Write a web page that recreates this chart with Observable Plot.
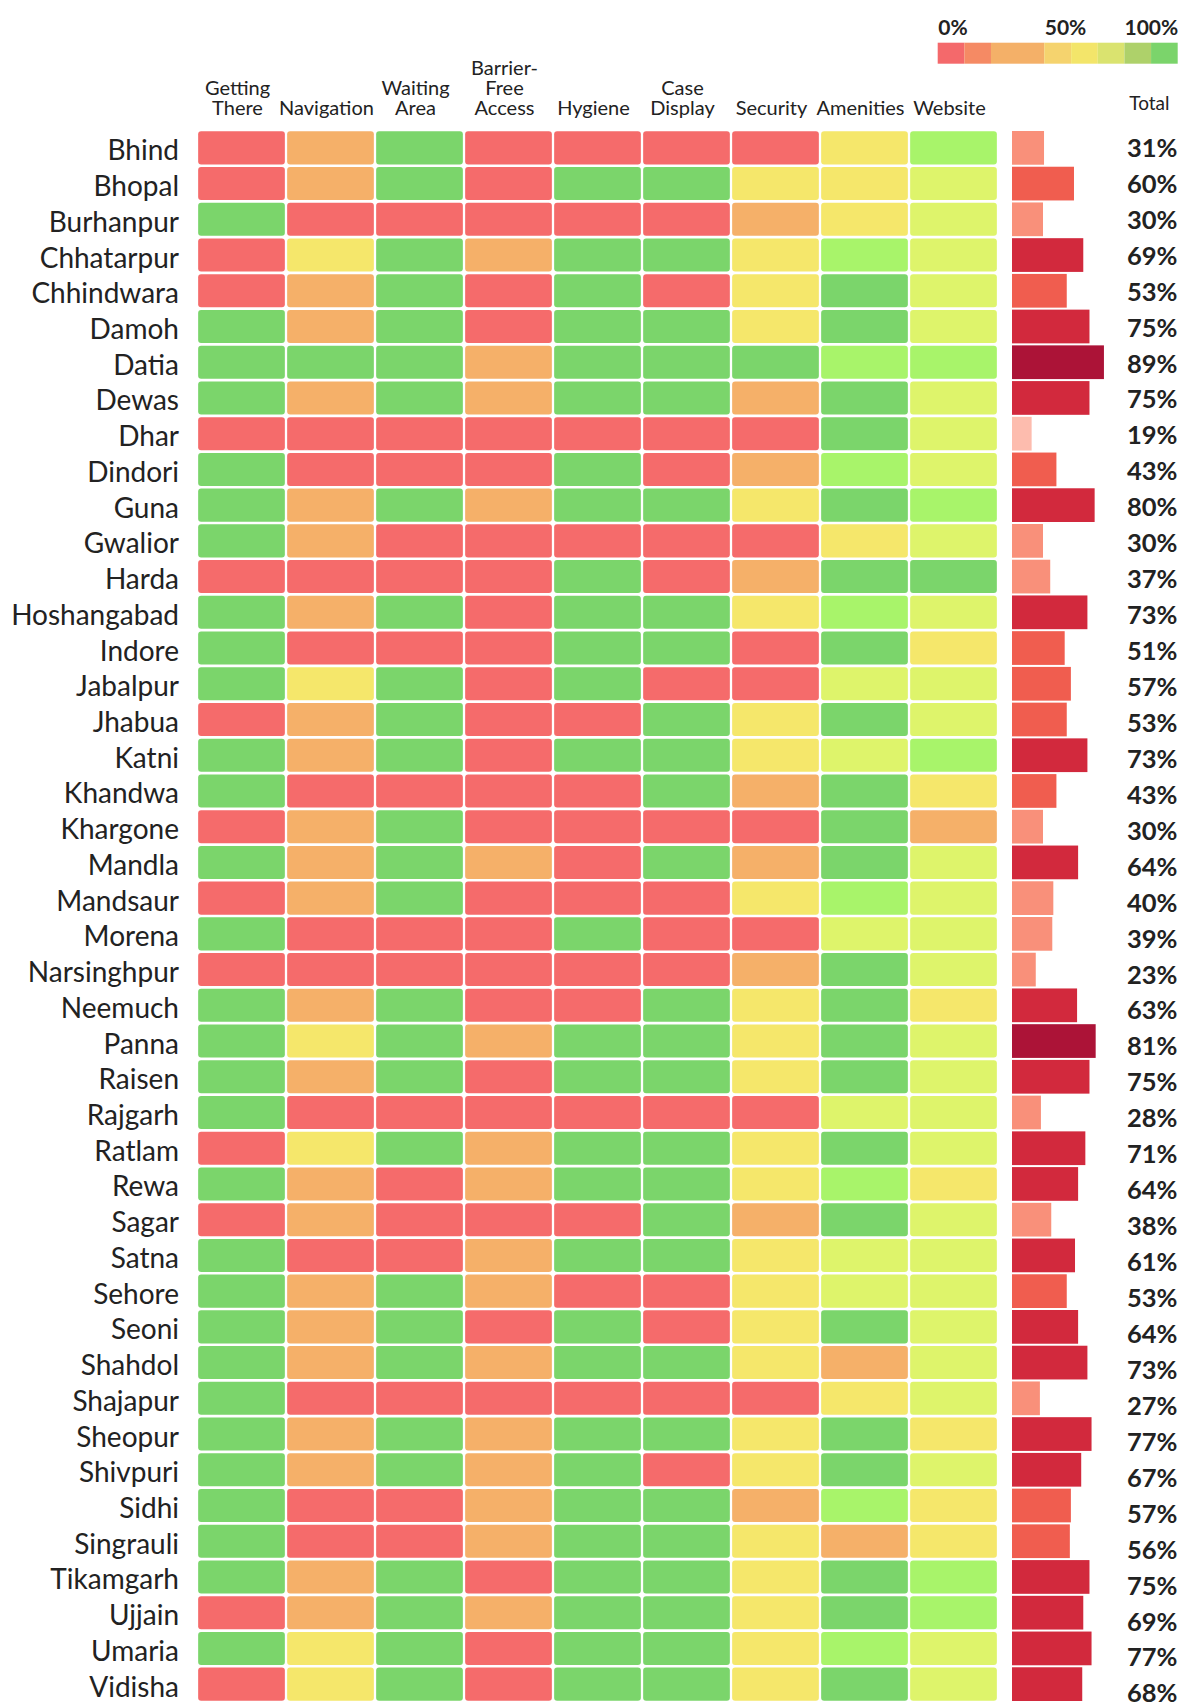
<!DOCTYPE html>
<html><head><meta charset="utf-8">
<script src="https://cdn.jsdelivr.net/npm/d3@7"></script>
<script src="https://cdn.jsdelivr.net/npm/@observablehq/plot@0.6"></script>
<style>
body{margin:0;background:#fff;font-family:Lato,sans-serif;overflow:hidden}
#chart{position:relative;width:1184px;height:1702px;overflow:hidden}
#chart svg{position:absolute;left:0;top:0;overflow:visible}
</style></head><body><div id="chart"></div>
<script>
const districts = ["Bhind","Bhopal","Burhanpur","Chhatarpur","Chhindwara","Damoh","Datia","Dewas","Dhar","Dindori","Guna","Gwalior","Harda","Hoshangabad","Indore","Jabalpur","Jhabua","Katni","Khandwa","Khargone","Mandla","Mandsaur","Morena","Narsinghpur","Neemuch","Panna","Raisen","Rajgarh","Ratlam","Rewa","Sagar","Satna","Sehore","Seoni","Shahdol","Shajapur","Sheopur","Shivpuri","Sidhi","Singrauli","Tikamgarh","Ujjain","Umaria","Vidisha"];
const categories = ["Getting There","Navigation","Waiting Area","Barrier-Free Access","Hygiene","Case Display","Security","Amenities","Website"];
const categoryLabels = ["Getting\nThere","Navigation","Waiting\nArea","Barrier-\nFree\nAccess","Hygiene","Case\nDisplay","Security","Amenities","Website"];
// one letter per category: R red, O orange, Y yellow, L pale lime, B bright lime, G green
const ratings = [
 "ROGRRRRYB","ROGRGGYYL","GRRRRROYL","RYGOGGYBL","ROGRGRYGL","GOGRGGYGL","GGGOGGGBB","GOGOGGOGL","RRRRRRRGL","GRRRGROBL",
 "GOGOGGYGB","GORRRRRYL","RRRRGROGG","GOGRGGYBL","GRRRGGRGY","GYGRGRRLL","ROGRRGYGL","GOGRGGYLB","GRRRRGOGY","ROGRRRRGO",
 "GOGORGOGL","ROGRRRYBL","GRRRGRRLL","RRRRRROGL","GOGRRGYGY","GYGOGGYGL","GOGRGGYGL","GRRRRRRLL","RYGOGGYGL","GOROGGYBY",
 "RORRRGOGL","GRROGGYLL","GOGORRYLL","GOGRGRYGL","GOGOGGYOL","GRRRRRRYL","GOGOGGYGY","GOGOGRYGL","GRROGGOBY","GRROGGYOY",
 "GOGRGGYGB","ROGOGGYGB","GYGRGGYBL","RYGRGGYGL"
];
const totals = [31,60,30,69,53,75,89,75,19,43,80,30,37,73,51,57,53,73,43,30,64,40,39,23,63,81,75,28,71,64,38,61,53,64,73,27,77,67,57,56,75,69,77,68];

const levelCodes = ["R","O","Y","L","B","G"];
const levelColors = ["#f56b6b","#f5b069","#f5e76b","#def46b","#a8f46a","#7bd56b"];
const totalThresholds = [20.5, 40.5, 60.5, 80.5];
const totalColors = ["#fdbcae","#f9907a","#f05d4f","#d2293d","#ac1337"];
const legendStops = [0, 11.1, 22.2, 44.4, 55.6, 66.7, 77.8, 88.9, 100];
const legendColors = ["#f4696b","#f58a64","#f4b068","#f5d36e","#f3e56a","#dae36f","#aed16a","#7bd46b"];
const legendLabels = ["0%","50%","100%"];
const legendLabelStop = [0, 3, 8];

const cells = districts.flatMap((d, i) => categories.map((c, j) => ({district: d, category: c, level: ratings[i][j]})));
const totalRows = districts.map((d, i) => ({district: d, total: totals[i]}));
const root = document.getElementById("chart");
const FONT = "Lato, sans-serif";

const heat = Plot.plot({
  width: 1000.5, height: 1703,
  marginLeft: 193.5, marginRight: 0, marginTop: 130, marginBottom: 1,
  style: {fontFamily: FONT, color: "#222", background: "transparent"},
  x: {type: "band", domain: categories, padding: 0, axis: null},
  y: {type: "band", domain: districts, padding: 0, axis: null},
  color: {type: "ordinal", domain: levelCodes, range: levelColors},
  marks: [
    Plot.cell(cells, {x: "category", y: "district", fill: "level", insetLeft: 1.15, insetRight: 1.15, insetTop: 1.35, insetBottom: 1.35, rx: 3}),
    Plot.axisX({anchor: "top", label: null, tickSize: 0, tickPadding: 16, fontSize: 20, lineHeight: 1.0, dx: -4.5,
      tickFormat: d => categoryLabels[categories.indexOf(d)]}),
    Plot.axisY({anchor: "left", label: null, tickSize: 0, tickPadding: 15, fontSize: 28, dy: 3})
  ]
});
root.appendChild(heat);

const bars = Plot.plot({
  width: 1184, height: 1703,
  marginLeft: 1012, marginRight: 7, marginTop: 130, marginBottom: 1,
  style: {fontFamily: FONT, color: "#222", background: "transparent"},
  x: {domain: [0, 100], range: [1012, 1115.3], axis: null},
  y: {type: "band", domain: districts, padding: 0, axis: null},
  color: {type: "threshold", domain: totalThresholds, range: totalColors},
  marks: [
    Plot.barX(totalRows, {x: "total", y: "district", fill: "total", insetTop: 1, insetBottom: 1}),
    Plot.text(["Total"], {frameAnchor: "top-right", textAnchor: "end", lineAnchor: "bottom", dx: -8, dy: -21, fontSize: 19})
  ]
});
root.appendChild(bars);

// the total labels sit on a slightly longer row pitch than the cells
const labels = Plot.plot({
  width: 1184, height: 1711,
  marginLeft: 1012, marginRight: 7, marginTop: 129.5, marginBottom: 0,
  style: {fontFamily: FONT, color: "#222", background: "transparent"},
  x: {domain: [0, 100], axis: null},
  y: {type: "band", domain: districts, padding: 0, axis: null},
  marks: [
    Plot.text(totalRows, {y: "district", text: d => d.total + "%", frameAnchor: "right", textAnchor: "end", fontSize: 25.5, fontWeight: "bold", dy: 0.7})
  ]
});
root.appendChild(labels);

const segs = legendColors.map((c, i) => ({x1: legendStops[i], x2: legendStops[i + 1], c}));
const labs = legendLabels.map((t, i) => ({t, p: legendStops[legendLabelStop[i]]}));
const legend = Plot.plot({
  width: 1184, height: 66,
  marginLeft: 937.7, marginRight: 6.3, marginTop: 42.7, marginBottom: 2.3,
  style: {fontFamily: FONT, color: "#222", background: "transparent"},
  x: {domain: [0, 100], axis: null},
  marks: [
    Plot.rect(segs, {x1: "x1", x2: "x2", fill: "c"}),
    Plot.text(labs.filter((d, i) => i < 2), {x: "p", text: "t", textAnchor: "start", frameAnchor: "top", lineAnchor: "bottom", dy: -8.4, fontSize: 21, fontWeight: "bold"}),
    Plot.text(labs.filter((d, i) => i === 2), {x: "p", text: "t", textAnchor: "end", frameAnchor: "top", lineAnchor: "bottom", dy: -8.4, fontSize: 21, fontWeight: "bold"})
  ]
});
root.appendChild(legend);
</script></body></html>
